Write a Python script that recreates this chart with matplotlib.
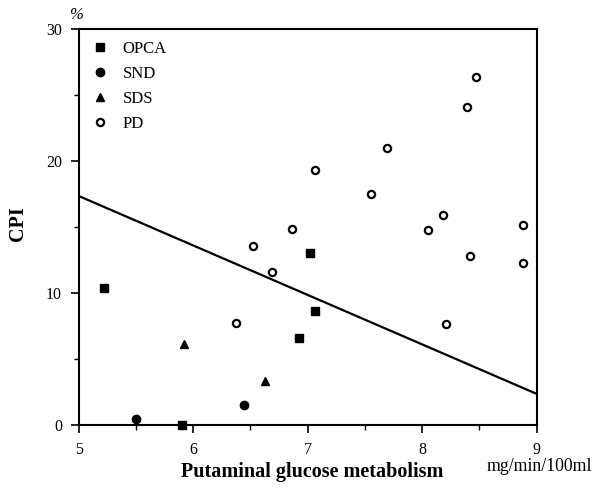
import numpy as np
import matplotlib.pyplot as plt
from matplotlib.ticker import MultipleLocator

plt.rcParams['font.family'] = ['Liberation Serif', 'DejaVu Serif']

# dados
opca_x = [5.22, 5.90, 6.92, 7.02, 7.06]
opca_y = [10.4, 0.0, 6.55, 13.0, 8.6]
snd_x = [5.50, 6.44]
snd_y = [0.41, 1.47]
sds_x = [5.92, 6.63]
sds_y = [6.1, 3.3]
pd_x = [6.37, 6.52, 6.69, 6.86, 7.06, 7.55, 7.69, 8.05, 8.18, 8.21, 8.39, 8.42, 8.47, 8.88, 8.88]
pd_y = [7.7, 13.55, 11.55, 14.85, 19.3, 17.5, 21.0, 14.8, 15.9, 7.65, 24.1, 12.8, 26.4, 15.15, 12.25]

# reta de regressao
reta_x = [5, 9]
reta_y = [17.35, 2.33]

fig = plt.figure(figsize=(5.96, 4.92), dpi=100)
ax = fig.add_axes([0.132, 0.137, 0.7685, 0.8035])

ax.plot(opca_x, opca_y, 's', color='black', ms=6, label='OPCA', clip_on=False)
ax.plot(snd_x, snd_y, 'o', color='black', ms=6, label='SND', clip_on=False)
ax.plot(sds_x, sds_y, '^', color='black', ms=6, label='SDS', clip_on=False)
ax.plot(pd_x, pd_y, 'o', mfc='white', mec='black', mew=1.6, ms=5.2, label='PD', clip_on=False)
ax.plot(reta_x, reta_y, '-', color='black', lw=1.6)

ax.set_xlim(5, 9)
ax.set_ylim(0, 30)
ax.xaxis.set_major_locator(MultipleLocator(1))
ax.xaxis.set_minor_locator(MultipleLocator(0.5))
ax.yaxis.set_major_locator(MultipleLocator(10))
ax.yaxis.set_minor_locator(MultipleLocator(5))
ax.tick_params(which='major', direction='out', length=6, width=1.2, labelsize=11.5)
ax.tick_params(axis='x', which='major', pad=6.5)
ax.tick_params(axis='y', which='major', pad=6)
ax.tick_params(which='minor', direction='out', length=3.5, width=1.0)
for s in ax.spines.values():
    s.set_linewidth(1.5)

# rotulos dos eixos
ax.set_ylabel('CPI', fontsize=14.5, fontweight='bold', va='center')
ax.yaxis.set_label_coords(-0.1325, 0.508)
ax.set_xlabel('Putaminal glucose metabolism', fontsize=14.5, fontweight='bold', va='baseline')
ax.xaxis.set_label_coords(0.509, -0.132)
ax.text(-0.006, 1.036, '%', transform=ax.transAxes, fontsize=12, style='italic',
        ha='center', va='center')
ax.text(1.007, -0.117, 'mg/min/100ml', transform=ax.transAxes, fontsize=12.8,
        ha='center', va='baseline')

ax.legend(loc='upper left', bbox_to_anchor=(-0.017, 1.013), frameon=False, fontsize=12,
          handletextpad=0.6, labelspacing=0.55, handlelength=1.5, borderaxespad=0.6)

fig.savefig('out.png', dpi=100)
